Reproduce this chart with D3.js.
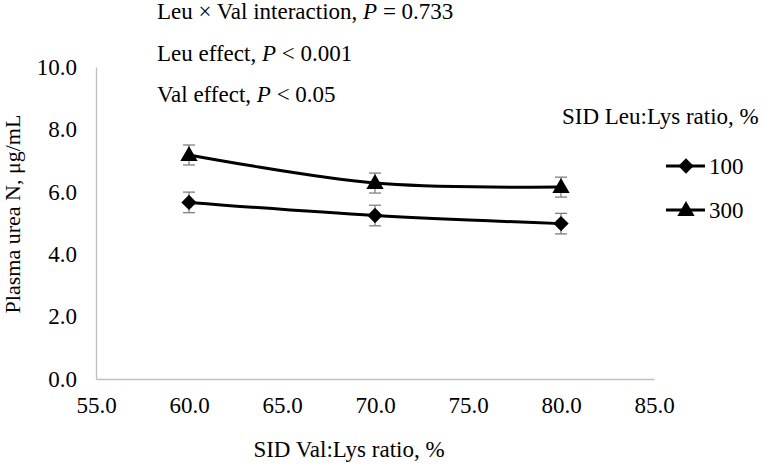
<!DOCTYPE html>
<html><head><meta charset="utf-8">
<script src="https://cdn.jsdelivr.net/npm/d3@7"></script>
<style>body{margin:0;background:#fff}svg{display:block}text{font-family:"Liberation Serif","Times New Roman",serif;fill:#000}</style>
</head><body><svg id="c" width="764" height="466"></svg>
<script>
const valRatios = [60, 70, 80];
const leu100 = [5.66, 5.24, 4.98];
const leu300 = [7.18, 6.28, 6.15];
const err100 = [0.33, 0.33, 0.33];
const err300 = [0.32, 0.32, 0.32];
const xTicks = [55, 60, 65, 70, 75, 80, 85];
const yTicks = [0, 2, 4, 6, 8, 10];
const seriesNames = ["100", "300"];
const statLines = [
  ["Leu × Val interaction, ", "P", " = 0.733"],
  ["Leu effect, ", "P", " < 0.001"],
  ["Val effect, ", "P", " < 0.05"]
];

const FS = 23;
const svg = d3.select("#c");
const x = d3.scaleLinear().domain([55, 85]).range([96, 654]);
const y = d3.scaleLinear().domain([0, 10]).range([379, 67]);
const axisColor = "#bfbfbf";

// axes
const xa = svg.append("g").attr("transform", `translate(0,${y(0)})`)
  .call(d3.axisBottom(x).tickValues(xTicks).tickSize(0).tickPadding(18).tickFormat(d3.format(".1f")));
xa.select(".domain").attr("stroke", axisColor).attr("stroke-width", 1.3);
xa.selectAll("text").attr("font-size", FS).attr("font-family", "Liberation Serif");
const ya = svg.append("g").attr("transform", `translate(${x(55)},0)`)
  .call(d3.axisLeft(y).tickValues(yTicks).tickSize(0).tickPadding(19).tickFormat(d3.format(".1f")));
ya.select(".domain").attr("stroke", axisColor).attr("stroke-width", 1.3);
ya.selectAll("text").attr("font-size", FS).attr("font-family", "Liberation Serif");

// titles
svg.append("text").attr("x", 349).attr("y", 457).attr("text-anchor", "middle")
  .attr("font-size", FS).text("SID Val:Lys ratio, %");
svg.append("text").attr("transform", "translate(20,214) rotate(-90)").attr("text-anchor", "middle")
  .attr("font-size", 22).text("Plasma urea N, μg/mL");

// stats text
statLines.forEach((s, i) => {
  const t = svg.append("text").attr("x", 157).attr("y", 19 + i * 41.5).attr("font-size", FS);
  t.append("tspan").text(s[0]);
  t.append("tspan").attr("font-style", "italic").text(s[1]);
  t.append("tspan").text(s[2]);
});

const series = [
  {name: seriesNames[0], vals: leu100, err: err100, sym: d3.symbolDiamond2},
  {name: seriesNames[1], vals: leu300, err: err300, sym: d3.symbolTriangle}
];
const line = d3.line().x((d, i) => x(valRatios[i])).y(d => y(d)).curve(d3.curveCatmullRom.alpha(0.5));
const symSize = s => s === d3.symbolTriangle ? 130 : 150;
const symOff = s => s === d3.symbolTriangle ? 1 : 0;

series.forEach(s => {
  const g = svg.append("g").attr("stroke", "#808080").attr("stroke-width", 1.3);
  s.vals.forEach((v, i) => {
    const cx = x(valRatios[i]);
    g.append("line").attr("x1", cx).attr("x2", cx).attr("y1", y(v + s.err[i])).attr("y2", y(v - s.err[i]));
    g.append("line").attr("x1", cx - 6).attr("x2", cx + 6).attr("y1", y(v + s.err[i])).attr("y2", y(v + s.err[i]));
    g.append("line").attr("x1", cx - 6).attr("x2", cx + 6).attr("y1", y(v - s.err[i])).attr("y2", y(v - s.err[i]));
  });
  svg.append("path").datum(s.vals).attr("d", line).attr("fill", "none").attr("stroke", "#000").attr("stroke-width", 3);
  s.vals.forEach((v, i) => {
    svg.append("path").attr("d", d3.symbol().type(s.sym).size(symSize(s.sym))())
      .attr("transform", `translate(${x(valRatios[i])},${y(v) + symOff(s.sym)})`).attr("fill", "#000");
  });
});

// legend
svg.append("text").attr("x", 562).attr("y", 124).attr("font-size", FS).text("SID Leu:Lys ratio, %");
series.forEach((s, i) => {
  const ly = 166 + i * 44;
  svg.append("line").attr("x1", 666).attr("x2", 705).attr("y1", ly).attr("y2", ly).attr("stroke", "#000").attr("stroke-width", 3);
  svg.append("path").attr("d", d3.symbol().type(s.sym).size(symSize(s.sym))())
    .attr("transform", `translate(686,${ly + symOff(s.sym)})`).attr("fill", "#000");
  svg.append("text").attr("x", 709).attr("y", ly + 8).attr("font-size", FS).text(s.name);
});
</script></body></html>
